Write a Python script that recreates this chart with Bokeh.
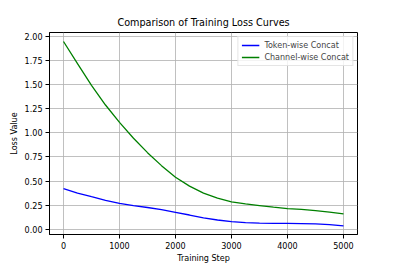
from bokeh.plotting import figure
from bokeh.models import FixedTicker, NumeralTickFormatter, Legend, LegendItem, Range1d
from bokeh.embed import file_html
from bokeh.resources import INLINE

steps = [0, 250, 500, 750, 1000, 1250, 1500, 1750, 2000, 2250, 2500,
         2750, 3000, 3250, 3500, 3750, 4000, 4250, 4500, 4750, 5000]
token_wise = [0.42, 0.375, 0.337, 0.30, 0.268, 0.245, 0.225, 0.203, 0.175, 0.147, 0.117,
              0.095, 0.079, 0.068, 0.062, 0.060, 0.060, 0.058, 0.055, 0.047, 0.035]
channel_wise = [1.95, 1.72, 1.495, 1.29, 1.11, 0.945, 0.795, 0.66, 0.54, 0.447, 0.375,
                0.322, 0.284, 0.262, 0.245, 0.228, 0.214, 0.205, 0.193, 0.178, 0.158]
x_ticks = [0, 1000, 2000, 3000, 4000, 5000]
y_ticks = [0.0, 0.25, 0.5, 0.75, 1.0, 1.25, 1.5, 1.75, 2.0]

FONT = "DejaVu Sans"

p = figure(width=397, height=265, output_backend="svg", toolbar_location=None,
           title="Comparison of Training Loss Curves",
           x_range=Range1d(-250, 5250), y_range=Range1d(-0.0555, 2.0435),
           min_border_left=49, min_border_right=40, min_border_top=32, min_border_bottom=29)

p.title.text_font = FONT
p.title.text_font_size = "9.67px"
p.title.text_font_style = "normal"
p.title.align = "center"
p.title.text_color = "black"

r1 = p.line(steps, token_wise, line_color="#0000ff", line_width=1.3)
r2 = p.line(steps, channel_wise, line_color="#008000", line_width=1.3)

for ax in (p.xaxis[0], p.yaxis[0]):
    ax.axis_line_color = "black"
    ax.axis_line_width = 1
    ax.major_tick_line_color = "black"
    ax.major_tick_out = 4
    ax.major_tick_in = 0
    ax.minor_tick_line_color = None
    ax.major_label_text_font = FONT
    ax.major_label_text_font_size = "8.06px"
    ax.major_label_text_color = "black"
    ax.axis_label_text_font = FONT
    ax.axis_label_text_font_size = "8.06px"
    ax.axis_label_text_font_style = "normal"
    ax.axis_label_text_color = "black"
    ax.major_label_standoff = 3

p.xaxis.ticker = FixedTicker(ticks=x_ticks)
p.yaxis.ticker = FixedTicker(ticks=y_ticks)
p.xaxis.formatter = NumeralTickFormatter(format="0")
p.yaxis.formatter = NumeralTickFormatter(format="0.00")
p.xaxis.axis_label = "Training Step"
p.yaxis.axis_label = "Loss Value"
p.xaxis.axis_label_standoff = 2
p.yaxis.axis_label_standoff = 3

p.xgrid.ticker = FixedTicker(ticks=x_ticks)
p.ygrid.ticker = FixedTicker(ticks=y_ticks)
p.grid.grid_line_color = "#b0b0b0"
p.grid.grid_line_alpha = 0.8
p.grid.grid_line_width = 1

p.outline_line_color = "black"
p.outline_line_width = 1
p.background_fill_color = "white"
p.border_fill_color = "white"

legend = Legend(items=[LegendItem(label="Token-wise Concat", renderers=[r1]),
                       LegendItem(label="Channel-wise Concat", renderers=[r2])],
                location="top_right", margin=4, padding=3, spacing=2,
                glyph_width=18, glyph_height=10, label_height=10, label_standoff=5,
                label_text_font=FONT, label_text_font_size="8.06px",
                border_line_color="#cccccc", border_line_width=1,
                background_fill_alpha=0.8)
p.add_layout(legend)

open("out.html", "w").write(file_html(p, INLINE))
